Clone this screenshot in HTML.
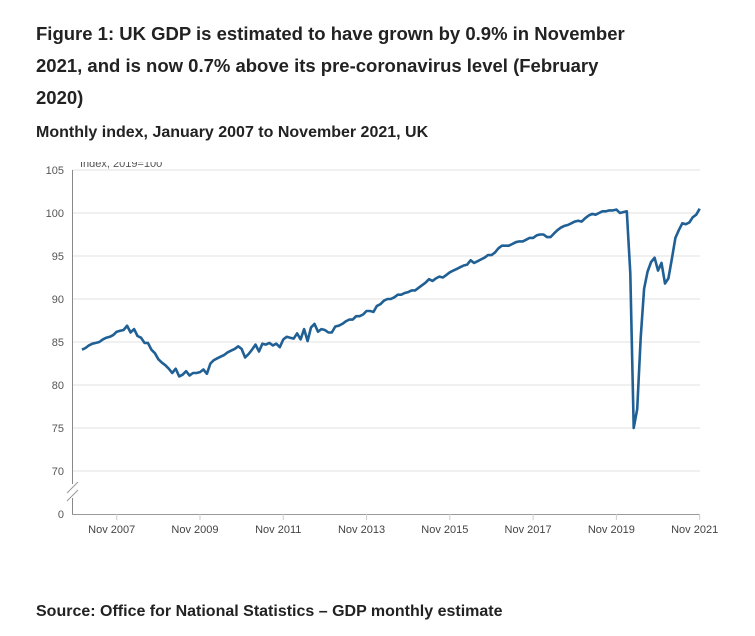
<!DOCTYPE html>
<html><head><meta charset="utf-8"><style>
body{margin:0;width:755px;height:636px;background:#fff;font-family:"Liberation Sans",sans-serif;color:#222;overflow:hidden;position:relative}
.t{position:absolute;left:36px;top:18px;width:595px;font-weight:bold;font-size:18.5px;line-height:32px}
.s{position:absolute;left:36px;top:124px;font-weight:bold;font-size:16px}
.src{position:absolute;left:36px;top:603px;font-weight:bold;font-size:16px}
svg{position:absolute;left:0;top:0}
</style></head><body>
<div class="t">Figure 1: UK GDP is estimated to have grown by 0.9% in November 2021, and is now 0.7% above its pre-coronavirus level (February 2020)</div>
<div class="s">Monthly index, January 2007 to November 2021, UK</div>
<div class="src">Source: Office for National Statistics – GDP monthly estimate</div>
<svg id="c" width="755" height="636"></svg>
<script>
const yTicks=[70,75,80,85,90,95,100,105];
const xLabels=["Nov 2007","Nov 2009","Nov 2011","Nov 2013","Nov 2015","Nov 2017","Nov 2019","Nov 2021"];
const xLabelIdx=[10,34,58,82,106,130,154,178];
const gdp=[
84.1,84.3,84.6,84.8,84.9,85.0,85.3,85.5,85.6,85.8,86.2,86.3,
86.4,86.9,86.1,86.5,85.7,85.5,84.9,84.9,84.1,83.7,83.0,82.6,
82.3,81.9,81.4,81.9,81.0,81.2,81.6,81.1,81.4,81.4,81.5,81.8,
81.3,82.5,82.9,83.1,83.3,83.5,83.8,84.0,84.2,84.5,84.2,83.2,
83.6,84.1,84.7,83.9,84.8,84.7,84.9,84.6,84.8,84.4,85.3,85.6,
85.5,85.4,86.0,85.3,86.5,85.1,86.7,87.1,86.2,86.5,86.4,86.1,
86.1,86.8,86.9,87.1,87.4,87.6,87.6,88.0,88.0,88.2,88.6,88.6,
88.5,89.2,89.4,89.8,90.0,90.0,90.2,90.5,90.5,90.7,90.8,91.0,
91.0,91.3,91.6,91.9,92.3,92.1,92.4,92.6,92.5,92.8,93.1,93.3,
93.5,93.7,93.9,94.0,94.5,94.2,94.4,94.6,94.8,95.1,95.1,95.4,
95.9,96.2,96.2,96.2,96.4,96.6,96.7,96.7,96.9,97.1,97.1,97.4,
97.5,97.5,97.2,97.2,97.6,98.0,98.3,98.5,98.6,98.8,99.0,99.1,
99.0,99.4,99.7,99.9,99.8,100.0,100.2,100.2,100.3,100.3,100.4,100.0,
100.1,100.2,93.0,75.0,77.2,85.5,91.2,93.2,94.3,94.8,93.3,94.2,
91.8,92.4,94.7,97.1,98.0,98.8,98.7,98.9,99.5,99.8,100.5];
const NS="http://www.w3.org/2000/svg";
const svg=document.getElementById('c');
const X=i=>82+i*3.47;
const Y=v=>471-(v-70)*8.6;
function mk(t,a,p){const e=document.createElementNS(NS,t);for(const k in a)e.setAttribute(k,a[k]);(p||svg).appendChild(e);return e;}
yTicks.forEach(v=>{
 const g=mk('line',{x1:72,x2:700,y1:Y(v),y2:Y(v),stroke:'#e2e2e2','stroke-width':1});
 
 
 const t=mk('text',{x:64,y:Y(v)+4,'text-anchor':'end','font-size':11,fill:'#555'});
 t.textContent=v;
 
 
});
const z=mk('text',{x:64,y:518,'text-anchor':'end','font-size':11,fill:'#555'});z.textContent='0';


const ya=mk('line',{x1:72.5,x2:72.5,y1:170,y2:514,stroke:'#888','stroke-width':1});


const xa=mk('line',{x1:72,x2:700,y1:514.5,y2:514.5,stroke:'#999','stroke-width':1});


const br=mk('rect',{x:66,y:484,width:14,height:14,fill:'#fff'});


mk('line',{x1:67,y1:493,x2:78,y2:482,stroke:'#999'});
mk('line',{x1:67,y1:501,x2:78,y2:490,stroke:'#999'});
xLabels.forEach((l,k)=>{
 const x=X(xLabelIdx[k]);
 const tk=mk('line',{x1:x,x2:x,y1:514,y2:520,stroke:'#ccc'});
 
 
 const t=mk('text',{x:x-5,y:533,'text-anchor':'middle','font-size':11,fill:'#444'});
 t.textContent=l;
 
 
});
const yt=mk('text',{x:80,y:167,'font-size':11,fill:'#555'});yt.textContent='Index, 2019=100';


mk('rect',{x:70,y:150,width:130,height:12,fill:'#fff'});
const p=mk('path',{d:gdp.map((v,i)=>(i?'L':'M')+X(i).toFixed(1)+','+Y(v).toFixed(1)).join(''),fill:'none',stroke:'#206095','stroke-width':2.6,'stroke-linejoin':'round'});


</script>
</body></html>
